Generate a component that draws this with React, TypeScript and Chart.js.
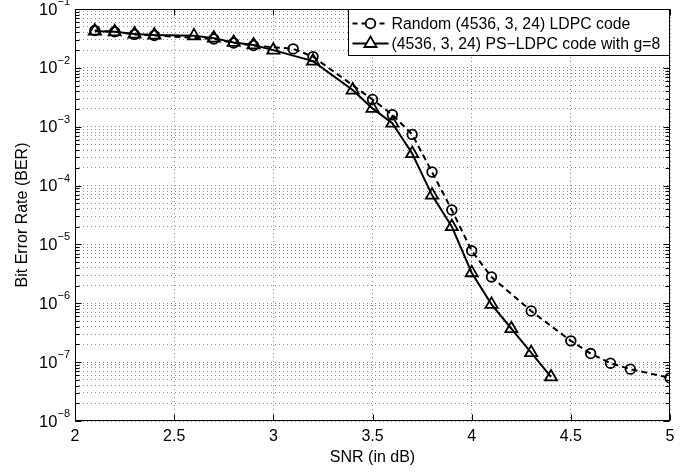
import React, { useEffect, useRef } from 'react';
import { Chart, registerables } from 'chart.js';

Chart.register(...registerables);

// ---- Data ----
const snrRandom = [2.1, 2.2, 2.3, 2.4, 2.7, 2.8, 2.9, 3.1, 3.2, 3.5, 3.6, 3.7, 3.8, 3.9, 4.0, 4.1, 4.3, 4.5, 4.6, 4.7, 4.8, 5.0];
const berRandom = [4.3e-2, 4.1e-2, 3.7e-2, 3.55e-2, 3.1e-2, 2.65e-2, 2.4e-2, 2.1e-2, 1.55e-2, 2.9e-3, 1.6e-3, 7.4e-4, 1.7e-4, 3.85e-5, 7.8e-6, 2.8e-6, 7.4e-7, 2.3e-7, 1.4e-7, 9.6e-8, 7.6e-8, 5.4e-8];

const snrPS = [2.1, 2.2, 2.3, 2.4, 2.6, 2.7, 2.8, 2.9, 3.0, 3.2, 3.4, 3.5, 3.6, 3.7, 3.8, 3.9, 4.0, 4.1, 4.2, 4.3, 4.4];
const berPS = [4.2e-2, 4.1e-2, 3.75e-2, 3.6e-2, 3.5e-2, 3.2e-2, 2.7e-2, 2.45e-2, 2.0e-2, 1.3e-2, 4.2e-3, 2.05e-3, 1.15e-3, 3.5e-4, 6.9e-5, 2.0e-5, 3.3e-6, 9.6e-7, 3.7e-7, 1.45e-7, 5.6e-8];

const labelRandom = 'Random (4536, 3, 24) LDPC code';
const labelPS = '(4536, 3, 24) PS\u2212LDPC code with g=8';

const xTickValues = [2, 2.5, 3, 3.5, 4, 4.5, 5];
const xTickLabels = ['2', '2.5', '3', '3.5', '4', '4.5', '5'];
const yExponents = [-8, -7, -6, -5, -4, -3, -2, -1];
const yExponentLabels = ['\u22128', '\u22127', '\u22126', '\u22125', '\u22124', '\u22123', '\u22122', '\u22121'];
const yMinorMultipliers = [2, 3, 4, 5, 6, 7, 8, 9];

const xTitle = 'SNR (in dB)';
const yTitle = 'Bit Error Rate (BER)';

const FONT = '"Liberation Sans", Arial, Helvetica, sans-serif';

function buildYTicks() {
  const ticks: { value: number; major: boolean }[] = [];
  yExponents.forEach((e) => {
    const base = Math.pow(10, e);
    ticks.push({ value: base, major: true });
    if (e < yExponents[yExponents.length - 1]) {
      yMinorMultipliers.forEach((m) => {
        ticks.push({ value: Number((m * base).toPrecision(3)), major: false });
      });
    }
  });
  return ticks;
}

const decorPlugin = {
  id: 'decor',
  afterDatasetsDraw(chart: any) {
    const { ctx, chartArea: a, scales } = chart;
    const xs = scales.x;
    const ys = scales.y;
    const L = Math.round(a.left) + 0.5;
    const R = Math.round(a.right) - 0.5;
    const T = Math.round(a.top) + 0.5;
    const B = Math.round(a.bottom) - 0.5;
    ctx.save();
    ctx.strokeStyle = '#000';
    ctx.lineWidth = 1;
    ctx.setLineDash([]);
    ctx.beginPath();
    ys.ticks.forEach((t: any) => {
      const py = Math.round(ys.getPixelForValue(t.value)) + 0.5;
      const len = t.major ? 6 : 4;
      ctx.moveTo(L, py);
      ctx.lineTo(L + len, py);
      ctx.moveTo(R, py);
      ctx.lineTo(R - len, py);
    });
    xs.ticks.forEach((t: any) => {
      const px = Math.round(xs.getPixelForValue(t.value)) + 0.5;
      ctx.moveTo(px, B);
      ctx.lineTo(px, B - 6);
      ctx.moveTo(px, T);
      ctx.lineTo(px, T + 6);
    });
    ctx.stroke();
    ctx.strokeRect(L, T, R - L, B - T);

    // y tick labels: 10 with superscript exponent
    ctx.fillStyle = '#000';
    ctx.textBaseline = 'middle';
    ctx.textAlign = 'left';
    yExponents.forEach((e, i) => {
      const py = ys.getPixelForValue(Math.pow(10, e));
      const sup = yExponentLabels[i];
      ctx.font = `11px ${FONT}`;
      const supW = ctx.measureText(sup).width;
      ctx.font = `16.5px ${FONT}`;
      const baseW = ctx.measureText('10').width;
      const xEnd = a.left - 5;
      ctx.fillText('10', xEnd - supW - baseW, py + 1);
      ctx.font = `11px ${FONT}`;
      ctx.fillText(sup, xEnd - supW, py - 7);
    });
    ctx.restore();
  },
  afterDraw(chart: any) {
    const { ctx, chartArea: a } = chart;
    const ds = chart.data.datasets;
    const legendFont = `15.8px ${FONT}`;
    ctx.save();
    ctx.font = legendFont;
    const textW = Math.max(...ds.map((d: any) => ctx.measureText(d.label).width));
    const sampleW = 40;
    const padL = 2;
    const gap = 1;
    const padR = 9;
    const boxW = Math.round(padL + sampleW + gap + textW + padR);
    const boxH = 46;
    const right = Math.round(a.right) - 0.5;
    const top = Math.round(a.top) + 0.5;
    const left = right - boxW;
    ctx.fillStyle = '#fff';
    ctx.fillRect(left, top, boxW, boxH);
    ctx.strokeStyle = '#000';
    ctx.lineWidth = 1;
    ctx.setLineDash([]);
    ctx.strokeRect(left, top, boxW, boxH);
    const rows = [top + 14, top + 34];
    ds.forEach((d: any, i: number) => {
      const ry = rows[i];
      const sx0 = left + padL;
      const sx1 = sx0 + sampleW;
      const cx = (sx0 + sx1) / 2;
      ctx.strokeStyle = '#000';
      ctx.lineWidth = d.borderWidth;
      ctx.setLineDash(d.borderDash ? [5, 4] : []);
      ctx.beginPath();
      ctx.moveTo(sx0 + 2, ry);
      ctx.lineTo(sx1 - 2, ry);
      ctx.stroke();
      ctx.setLineDash([]);
      ctx.lineWidth = d.pointBorderWidth;
      ctx.beginPath();
      if (d.pointStyle === 'triangle') {
        const r = d.pointRadius;
        ctx.moveTo(cx, ry - r);
        ctx.lineTo(cx + r * Math.sin(Math.PI / 3), ry + r * Math.cos(Math.PI / 3));
        ctx.lineTo(cx - r * Math.sin(Math.PI / 3), ry + r * Math.cos(Math.PI / 3));
        ctx.closePath();
        ctx.fillStyle = '#fff';
        ctx.fill();
      } else {
        ctx.arc(cx, ry, d.pointRadius, 0, Math.PI * 2);
        ctx.fillStyle = '#fff';
        ctx.fill();
      }
      ctx.stroke();
      ctx.fillStyle = '#000';
      ctx.textBaseline = 'middle';
      ctx.textAlign = 'left';
      ctx.font = legendFont;
      ctx.fillText(d.label, sx1 + gap, ry + 1);
    });
    ctx.restore();
  },
};

export default function App() {
  const canvasRef = useRef<HTMLCanvasElement | null>(null);

  useEffect(() => {
    document.body.style.margin = '0';
    const canvas = canvasRef.current;
    if (!canvas) return;
    const yTicks = buildYTicks();
    const chart = new Chart(canvas, {
      type: 'line',
      data: {
        datasets: [
          {
            label: labelRandom,
            data: snrRandom.map((x, i) => ({ x, y: berRandom[i] })),
            borderColor: '#000',
            borderWidth: 2,
            borderDash: [6, 4],
            pointStyle: 'circle',
            pointRadius: 4.8,
            pointBorderWidth: 1.8,
            pointBackgroundColor: 'rgba(0,0,0,0)',
            pointBorderColor: '#000',
            fill: false,
            tension: 0,
          },
          {
            label: labelPS,
            data: snrPS.map((x, i) => ({ x, y: berPS[i] })),
            borderColor: '#000',
            borderWidth: 2,
            pointStyle: 'triangle',
            pointRadius: 7,
            pointBorderWidth: 1.8,
            pointBackgroundColor: 'rgba(0,0,0,0)',
            pointBorderColor: '#000',
            fill: false,
            tension: 0,
          },
        ],
      } as any,
      options: {
        responsive: false,
        animation: false,
        devicePixelRatio: 1,
        layout: { padding: { left: 0, right: 30, top: 9, bottom: 0 } },
        plugins: {
          legend: { display: false },
          tooltip: { enabled: false },
        },
        scales: {
          x: {
            type: 'linear',
            min: 2,
            max: 5,
            afterBuildTicks: (scale: any) => {
              scale.ticks = xTickValues.map((v) => ({ value: v }));
            },
            afterFit: (scale: any) => {
              scale.height = 51;
            },
            ticks: {
              autoSkip: false,
              maxRotation: 0,
              padding: 6,
              color: '#000',
              font: { family: FONT, size: 16 },
              callback: (v: any) => {
                const i = xTickValues.indexOf(Number(v));
                return i >= 0 ? xTickLabels[i] : '';
              },
            },
            grid: { color: 'rgba(0,0,0,0.45)', lineWidth: 1, drawTicks: false },
            border: { display: false, dash: [1, 3] },
            title: {
              display: true,
              text: xTitle,
              color: '#000',
              font: { family: FONT, size: 16 },
              padding: { top: 0, bottom: 5 },
            },
          },
          y: {
            type: 'logarithmic',
            min: 1e-8,
            max: 1e-1,
            afterBuildTicks: (scale: any) => {
              scale.ticks = yTicks.map((t) => ({ value: t.value, major: t.major }));
            },
            afterFit: (scale: any) => {
              scale.width = 75;
            },
            ticks: { display: false, autoSkip: false },
            grid: { color: 'rgba(0,0,0,0.45)', lineWidth: 1, drawTicks: false },
            border: { display: false, dash: [1, 3] },
            title: {
              display: true,
              text: yTitle,
              color: '#000',
              font: { family: FONT, size: 16 },
              padding: { top: 13, bottom: 0 },
            },
          },
        },
      } as any,
      plugins: [decorPlugin],
    });
    return () => chart.destroy();
  }, []);

  return (
    <div style={{ position: 'absolute', left: 0, top: 0, width: 700, height: 472 }}>
      <canvas ref={canvasRef} width={700} height={472} />
    </div>
  );
}
